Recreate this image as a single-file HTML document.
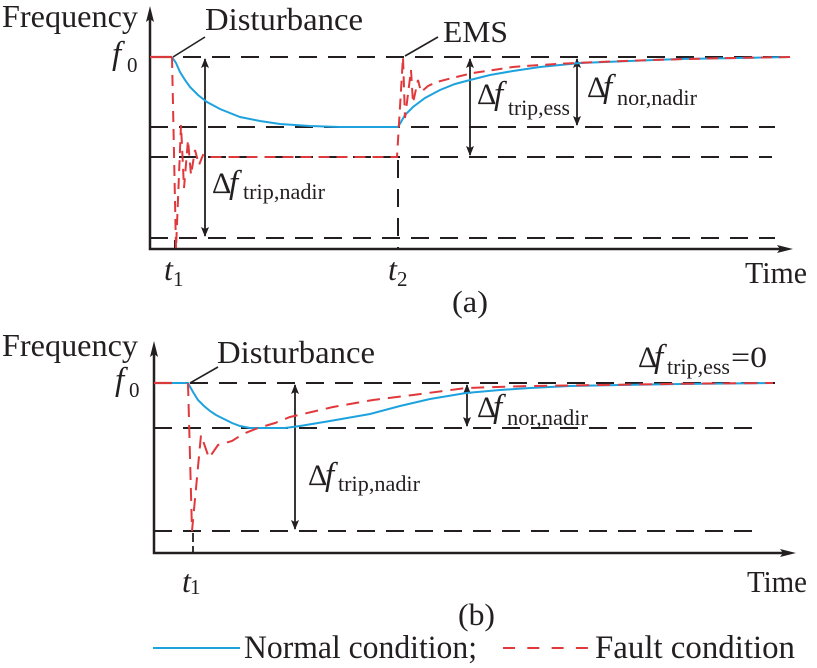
<!DOCTYPE html>
<html><head><meta charset="utf-8"><style>
html,body{margin:0;padding:0;background:#fff;}
svg{display:block;}
svg text{font-family:"Liberation Serif","Times New Roman","Noto Serif CJK SC","DejaVu Serif",serif;fill:#231f20;}
.it{font-style:italic;}
</style></head><body>
<svg width="817" height="668" viewBox="0 0 817 668" xmlns="http://www.w3.org/2000/svg" font-family="Liberation Serif, Times New Roman, Noto Serif CJK SC, DejaVu Serif, serif">
<rect width="817" height="668" fill="#fff"/>
<defs>
<marker id="ah" markerWidth="10" markerHeight="10" refX="9" refY="4" orient="auto-start-reverse" markerUnits="userSpaceOnUse" viewBox="0 0 10 8">
<path d="M0,0 L10,4 L0,8 L2,4 Z" fill="#231f20"/>
</marker>
</defs>

<!-- ================= Panel (a) ================= -->
<g stroke="#231f20" fill="none">
<path d="M150,18 V249 H782" stroke-width="2.5"/>
<path d="M150,6 L146,22 L150,19 L154,22 Z" fill="#231f20" stroke="none"/>
<path d="M793,249 L777,245 L780,249 L777,253 Z" fill="#231f20" stroke="none"/>
<g stroke-width="2" stroke-dasharray="18 11">
<path d="M183,57 H790"/>
<path d="M150,127 H775"/>
<path d="M150,157 H772"/>
<path d="M150,238 H775"/>
<path d="M398,160 V249"/>
</g>
<path d="M175,240 V249" stroke-width="2"/>
<path d="M173,57 L205,37" stroke-width="1.6"/>
<path d="M405,56 L438,37" stroke-width="1.6"/>
<g stroke-width="1.8">
<path d="M205,59 V236" marker-start="url(#ah)" marker-end="url(#ah)"/>
<path d="M470,59 V155" marker-start="url(#ah)" marker-end="url(#ah)"/>
<path d="M577,59 V125" marker-start="url(#ah)" marker-end="url(#ah)"/>
</g>
</g>
<path d="M172,57 L176,63 L180,72 L185,80 L190,87 L198,95 L207,102 L220,109 L240,117 L260,121 L280,124 L310,126 L340,127 L398,127 L401,122 L405,115 L413,107 L425,98 L440,90 L455,84 L470,80 L490,75 L513,71 L540,67 L580,63 L630,61 L680,59 L740,58 L790,57" fill="none" stroke="#1ea2de" stroke-width="2"/>
<path d="M150,57 H172" stroke="#d83a3c" stroke-width="2.2"/>
<path d="M172,57 L176,249 L181,125 L184,188 L188,140 L191,175 L195,150 L199,165 L203,155 L208,157 L397,157 L403,57 L405,118 L411,70 L413,103 L418,80 L421,92 L428,86 L437,82 L452,78 L473,73 L513,67 C560,63 650,59 792,57" fill="none" stroke="#e0383b" stroke-width="2" stroke-dasharray="11 7"/>

<text x="2" y="27" font-size="32" textLength="136" lengthAdjust="spacingAndGlyphs">Frequency</text>
<text x="112" y="64" font-size="33" class="it">f</text>
<text x="127" y="72" font-size="21">0</text>
<text x="205" y="30" font-size="32" textLength="158" lengthAdjust="spacingAndGlyphs">Disturbance</text>
<text x="443" y="42" font-size="31" textLength="65" lengthAdjust="spacingAndGlyphs">EMS</text>
<text x="212" y="193" font-size="30">Δ</text>
<text x="229" y="193" font-size="33" class="it">f</text>
<text x="243" y="199" font-size="22" textLength="82" lengthAdjust="spacingAndGlyphs">trip,nadir</text>
<text x="477" y="104" font-size="30">Δ</text>
<text x="494" y="104" font-size="33" class="it">f</text>
<text x="508" y="115" font-size="22" textLength="62" lengthAdjust="spacingAndGlyphs">trip,ess</text>
<text x="587" y="97" font-size="30">Δ</text>
<text x="603" y="97" font-size="33" class="it">f</text>
<text x="617" y="105" font-size="22" textLength="80" lengthAdjust="spacingAndGlyphs">nor,nadir</text>
<text x="164" y="280" font-size="32" class="it">t</text>
<text x="173" y="286" font-size="21">1</text>
<text x="388" y="280" font-size="32" class="it">t</text>
<text x="397" y="286" font-size="21">2</text>
<text x="745" y="283" font-size="31" textLength="62" lengthAdjust="spacingAndGlyphs">Time</text>
<text x="452" y="312" font-size="31" textLength="36" lengthAdjust="spacingAndGlyphs">(a)</text>

<!-- ================= Panel (b) ================= -->
<g stroke="#231f20" fill="none">
<path d="M154,352 V553 H785" stroke-width="2.5"/>
<path d="M154,341 L150,357 L154,354 L158,357 Z" fill="#231f20" stroke="none"/>
<path d="M796,553 L780,549 L783,553 L780,557 Z" fill="#231f20" stroke="none"/>
<g stroke-width="2" stroke-dasharray="18 11">
<path d="M190,383 H775"/>
<path d="M154,428 H760"/>
<path d="M154,531 H757"/>
</g>
<path d="M193,533 V553" stroke-width="1.8" stroke-dasharray="9 4"/>
<path d="M190,383 L218,367" stroke-width="1.6"/>
<g stroke-width="1.8">
<path d="M295,385 V529" marker-start="url(#ah)" marker-end="url(#ah)"/>
<path d="M467,385 V426" marker-start="url(#ah)" marker-end="url(#ah)"/>
</g>
</g>
<path d="M154,383 H172" stroke="#d83a3c" stroke-width="2.2"/>
<path d="M172,383 H188 L193,392 L198,400 L204,406 L210,411 L216,415 L224,419 L232,423 L240,426 L250,428 L285,428 L300,426 L330,421 L370,414 L400,406 L430,399 L466,393 L500,390 L530,388 L570,386 L620,385 L680,384 L773,383" fill="none" stroke="#1ea2de" stroke-width="2"/>
<path d="M188,383 L192,531 L201,435 L209,458 L218,445 L232,441 L243,434 L258,428 L275,423 L290,417 L333,407 L373,400 L413,395 L466,388 L530,386 L600,385 L700,383.5 L773,383" fill="none" stroke="#e0383b" stroke-width="2" stroke-dasharray="13 8"/>

<text x="2" y="356" font-size="32" textLength="136" lengthAdjust="spacingAndGlyphs">Frequency</text>
<text x="115" y="390" font-size="33" class="it">f</text>
<text x="129" y="397" font-size="21">0</text>
<text x="217" y="363" font-size="32" textLength="158" lengthAdjust="spacingAndGlyphs">Disturbance</text>
<text x="308" y="485" font-size="30">Δ</text>
<text x="325" y="485" font-size="33" class="it">f</text>
<text x="338" y="491" font-size="22" textLength="82" lengthAdjust="spacingAndGlyphs">trip,nadir</text>
<text x="477" y="417" font-size="30">Δ</text>
<text x="493" y="417" font-size="33" class="it">f</text>
<text x="507" y="425" font-size="22" textLength="81" lengthAdjust="spacingAndGlyphs">nor,nadir</text>
<text x="638" y="367" font-size="30">Δ</text>
<text x="654" y="367" font-size="33" class="it">f</text>
<text x="667" y="374" font-size="22" textLength="63" lengthAdjust="spacingAndGlyphs">trip,ess</text>
<text x="731" y="367" font-size="30" textLength="36" lengthAdjust="spacingAndGlyphs">=0</text>
<text x="182" y="592" font-size="32" class="it">t</text>
<text x="190" y="594" font-size="21">1</text>
<text x="747" y="592" font-size="31" textLength="60" lengthAdjust="spacingAndGlyphs">Time</text>
<text x="458" y="625" font-size="31" textLength="37" lengthAdjust="spacingAndGlyphs">(b)</text>

<path d="M153,648 H240" stroke="#1ea2de" stroke-width="2"/>
<text x="244" y="658" font-size="33" textLength="233" lengthAdjust="spacingAndGlyphs">Normal condition;</text>
<path d="M503,648 H588" stroke="#e0383b" stroke-width="2" stroke-dasharray="12 12.3"/>
<text x="595" y="658" font-size="33" textLength="200" lengthAdjust="spacingAndGlyphs">Fault condition</text>
</svg>
</body></html>
